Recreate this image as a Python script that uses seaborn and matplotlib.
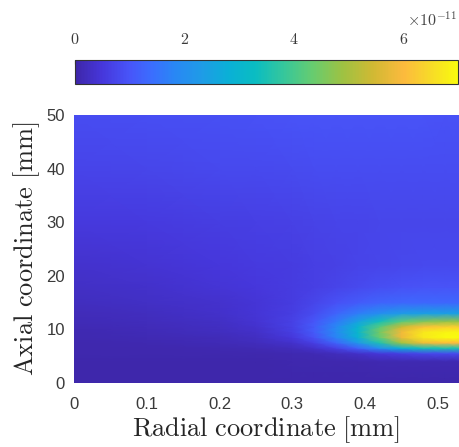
import matplotlib
matplotlib.use("Agg")
import matplotlib.pyplot as plt
import seaborn as sns
from matplotlib.colors import LinearSegmentedColormap

# grid of the map (mm)
radial_mm = [0.00, 0.10, 0.20, 0.25, 0.30, 0.33, 0.36, 0.39, 0.42, 0.45, 0.48, 0.51, 0.53]
axial_mm = [0, 4, 5.5, 6.5, 7.5, 8.5, 9.5, 10.5, 11.5, 13, 15, 18, 22, 30, 40, 50]

# values, in units of 1e-11 (one row per axial position)
field = [
    [0.04, 0.04, 0.04, 0.04, 0.04, 0.04, 0.04, 0.04, 0.04, 0.04, 0.04, 0.04, 0.04],
    [0.05, 0.05, 0.05, 0.05, 0.06, 0.06, 0.07, 0.08, 0.09, 0.10, 0.10, 0.10, 0.10],
    [0.06, 0.06, 0.07, 0.08, 0.10, 0.13, 0.20, 0.32, 0.48, 0.62, 0.75, 0.80, 0.80],
    [0.07, 0.08, 0.10, 0.13, 0.20, 0.34, 0.65, 1.20, 2.00, 2.80, 3.40, 3.50, 3.50],
    [0.08, 0.10, 0.14, 0.20, 0.34, 0.65, 1.25, 2.20, 3.50, 4.90, 5.80, 6.00, 6.00],
    [0.09, 0.12, 0.18, 0.26, 0.50, 0.95, 1.75, 2.85, 4.30, 5.80, 6.70, 7.00, 7.00],
    [0.10, 0.14, 0.22, 0.32, 0.62, 1.10, 1.90, 3.05, 4.50, 5.90, 6.70, 6.90, 6.90],
    [0.12, 0.17, 0.26, 0.38, 0.66, 1.12, 1.85, 2.95, 4.20, 5.40, 6.10, 6.30, 6.30],
    [0.15, 0.20, 0.30, 0.42, 0.66, 1.02, 1.60, 2.45, 3.40, 4.20, 4.60, 4.80, 4.80],
    [0.18, 0.24, 0.34, 0.44, 0.62, 0.86, 1.25, 1.65, 2.00, 2.30, 2.40, 2.40, 2.40],
    [0.22, 0.28, 0.38, 0.46, 0.60, 0.74, 0.94, 1.12, 1.25, 1.30, 1.30, 1.30, 1.30],
    [0.28, 0.34, 0.44, 0.50, 0.58, 0.64, 0.72, 0.82, 0.90, 0.95, 0.98, 0.98, 0.98],
    [0.36, 0.42, 0.50, 0.55, 0.60, 0.64, 0.68, 0.72, 0.75, 0.78, 0.80, 0.80, 0.80],
    [0.52, 0.56, 0.62, 0.65, 0.68, 0.70, 0.72, 0.73, 0.74, 0.74, 0.74, 0.74, 0.74],
    [0.72, 0.76, 0.80, 0.82, 0.84, 0.85, 0.86, 0.86, 0.86, 0.86, 0.85, 0.85, 0.85],
    [0.85, 0.88, 0.92, 0.94, 0.96, 0.97, 0.98, 0.98, 0.98, 0.97, 0.96, 0.95, 0.95],
]

cbar_ticks = [0, 2, 4, 6]
x_ticks = [0, 0.1, 0.2, 0.3, 0.4, 0.5]
x_ticklabels = ["0", "0.1", "0.2", "0.3", "0.4", "0.5"]
y_ticks = [0, 10, 20, 30, 40, 50]

sns.set_theme(style="white")
plt.rcParams["mathtext.fontset"] = "cm"
plt.rcParams["font.family"] = ["Liberation Sans", "DejaVu Sans"]

# parula-like map
parula = LinearSegmentedColormap.from_list("parula", [
    (0.00, (0.242, 0.150, 0.660)),
    (0.07, (0.275, 0.215, 0.860)),
    (0.14, (0.281, 0.330, 0.975)),
    (0.20, (0.230, 0.430, 0.998)),
    (0.26, (0.160, 0.530, 0.960)),
    (0.33, (0.120, 0.610, 0.905)),
    (0.40, (0.040, 0.690, 0.840)),
    (0.47, (0.040, 0.740, 0.760)),
    (0.55, (0.220, 0.780, 0.600)),
    (0.62, (0.400, 0.800, 0.440)),
    (0.70, (0.620, 0.760, 0.260)),
    (0.78, (0.820, 0.725, 0.200)),
    (0.86, (0.990, 0.730, 0.240)),
    (0.92, (0.970, 0.840, 0.170)),
    (1.00, (0.976, 0.983, 0.054)),
])

fig = plt.figure(figsize=(4.59, 4.47), dpi=100)
ax = fig.add_axes([74 / 459, 64 / 447, 1 - 74 / 459, 268 / 447])
mesh = ax.pcolormesh(radial_mm, axial_mm, field, shading="gouraud",
                     cmap=parula, vmin=0, vmax=7)
ax.set_xlim(0, 0.529)
ax.set_ylim(0, 50)
for s in ax.spines.values():
    s.set_visible(False)

ax.set_xticks(x_ticks, labels=x_ticklabels)
ax.set_yticks(y_ticks)
ax.tick_params(axis="x", length=0, pad=10, labelsize=12, labelcolor="#3a3a3a")
ax.tick_params(axis="y", length=0, pad=6.5, labelsize=12, labelcolor="#3a3a3a")
ax.set_xlabel(r"$\mathrm{Radial\ coordinate\ [mm]}$", fontsize=19, labelpad=2)
ax.set_ylabel(r"$\mathrm{Axial\ coordinate\ [mm]}$", fontsize=19, labelpad=3)

cax = fig.add_axes([75 / 459, (447 - 84) / 447, 383 / 459, 24 / 447])
cb = fig.colorbar(mesh, cax=cax, orientation="horizontal")
cax.xaxis.set_ticks_position("top")
cb.set_ticks(cbar_ticks, labels=[f"${t}$" for t in cbar_ticks])
cax.tick_params(axis="x", direction="in", length=3, width=0.8, pad=9,
                labelsize=11.5, labelcolor="#3a3a3a", color="#222222")
cb.outline.set_edgecolor("#333333")
cb.outline.set_linewidth(0.8)
fig.text(457 / 459, 1 - 19 / 447, r"$\times10^{-11}$", ha="right", va="center",
         fontsize=11.5, color="#444444")

fig.savefig("out.png", dpi=100)
